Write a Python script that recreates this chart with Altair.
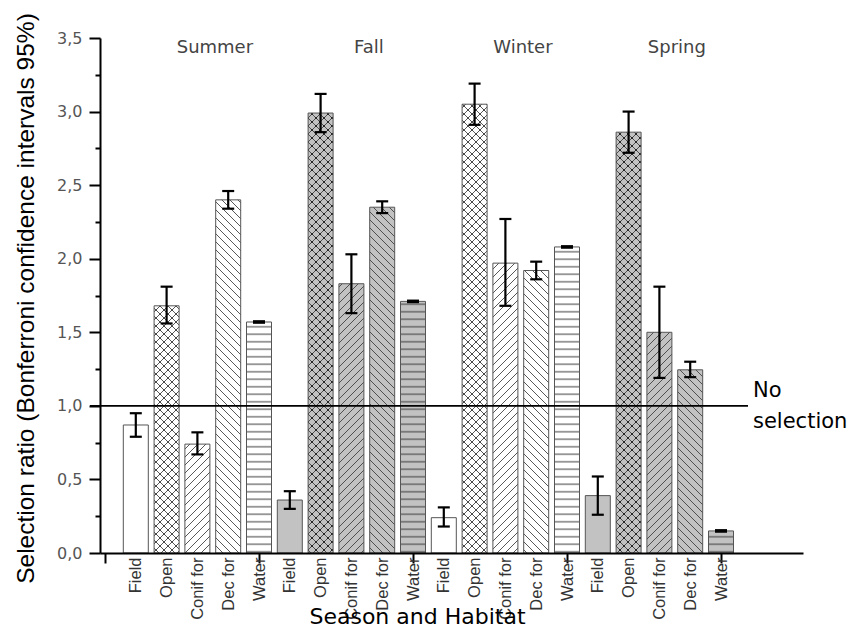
import altair as alt
import pandas as pd

# ---------------- data ----------------
seasons = ["Summer", "Fall", "Winter", "Spring"]
habitats = ["Field", "Open", "Conif for", "Dec for", "Water"]

summer_ratio = [0.87, 1.68, 0.74, 2.40, 1.57]
fall_ratio = [0.36, 2.99, 1.83, 2.35, 1.71]
winter_ratio = [0.24, 3.05, 1.97, 1.92, 2.08]
spring_ratio = [0.39, 2.86, 1.50, 1.245, 0.15]

summer_lower = [0.79, 1.56, 0.67, 2.34, 1.565]
fall_lower = [0.30, 2.86, 1.63, 2.31, 1.705]
winter_lower = [0.18, 2.91, 1.68, 1.86, 2.075]
spring_lower = [0.26, 2.72, 1.19, 1.195, 0.145]

summer_upper = [0.95, 1.81, 0.82, 2.46, 1.575]
fall_upper = [0.42, 3.12, 2.03, 2.39, 1.715]
winter_upper = [0.31, 3.19, 2.27, 1.98, 2.085]
spring_upper = [0.52, 3.00, 1.81, 1.30, 0.155]

no_selection_level = 1.0
no_selection_label = "No selection"

y_tick_values = [0.0, 0.5, 1.0, 1.5, 2.0, 2.5, 3.0, 3.5]
y_minor_values = [0.25, 0.75, 1.25, 1.75, 2.25, 2.75, 3.25]

# ---------------- table ----------------
ratios = [summer_ratio, fall_ratio, winter_ratio, spring_ratio]
lowers = [summer_lower, fall_lower, winter_lower, spring_lower]
uppers = [summer_upper, fall_upper, winter_upper, spring_upper]
rows = []
for si, s in enumerate(seasons):
    for hi, h in enumerate(habitats):
        rows.append({
            "season": s, "habitat": h, "pos": si * len(habitats) + hi + 1,
            "ratio": ratios[si][hi], "lower": lowers[si][hi], "upper": uppers[si][hi],
            "key": s + "|" + h,
        })
df = pd.DataFrame(rows)

# ---------------- fill patterns (SVG pattern paints) ----------------
WHITE = "#ffffff"
GREY = "#c2c2c2"
INK = "#3a3a3a"
shade = {"Summer": ("w", WHITE), "Fall": ("g", GREY), "Winter": ("w", WHITE), "Spring": ("g", GREY)}
pattern_of = {"Field": None, "Open": "open", "Conif for": "conif", "Dec for": "dec", "Water": "water"}


def _pattern(pid, bg, w, h, body):
    return (f'<pattern id="{pid}" patternUnits="userSpaceOnUse" width="{w}" height="{h}">'
            f'<rect x="0" y="0" width="{w}" height="{h}" fill="{bg}"/>{body}</pattern>')


def _dots(r):
    pts = [(0, 0), (8, 0), (0, 8), (8, 8), (4, 4)]
    return "".join(f'<circle cx="{x}" cy="{y}" r="{r}" fill="#111"/>' for x, y in pts)


line = f'stroke="{INK}" stroke-width="0.85" fill="none"'
defs = []
for tag, bg in (("w", WHITE), ("g", GREY)):
    dot_r = 0.55 if tag == "w" else 0.9
    defs.append(_pattern(f"pat-open-{tag}", bg, 8, 8,
                         f'<path d="M0,0L8,8M8,0L0,8" {line}/>' + _dots(dot_r)))
    defs.append(_pattern(f"pat-conif-{tag}", bg, 8, 8,
                         f'<path d="M-2,2L2,-2M0,8L8,0M6,10L10,6" {line}/>'))
    defs.append(_pattern(f"pat-dec-{tag}", bg, 8, 8,
                         f'<path d="M-2,6L2,10M0,0L8,8M6,-2L10,2" {line}/>'))
    defs.append(_pattern(f"pat-water-{tag}", bg, 8, 7.5,
                         f'<path d="M0,3.75H8" stroke="{INK}" stroke-width="1" fill="none"/>'))
PATTERN_DEFS = ('<svg width="0" height="0" aria-hidden="true" '
                'style="position:absolute;width:0;height:0;overflow:hidden"><defs>'
                + "".join(defs) + "</defs></svg>")

fill_domain, fill_range = [], []
for s in seasons:
    tag, bg = shade[s]
    for h in habitats:
        fill_domain.append(s + "|" + h)
        p = pattern_of[h]
        fill_range.append(bg if p is None else f"url(#pat-{p}-{tag}) {bg}")

try:
    import altair.utils.html as _alt_html

    _orig_tpl = _alt_html.TEMPLATES["standard"]

    class _PatternTemplate:
        def render(self, *args, **kwargs):
            html = _orig_tpl.render(*args, **kwargs)
            if "<body>" in html:
                return html.replace("<body>", "<body>\n" + PATTERN_DEFS, 1)
            return PATTERN_DEFS + html

    _alt_html.TEMPLATES["standard"] = _PatternTemplate()
except Exception:
    pass

# ---------------- scales & axes ----------------
x_scale = alt.Scale(domain=[0, 22.5], nice=False, zero=False)
y_scale = alt.Scale(domain=[0, 3.5], nice=False)

label_expr_x = ("datum.value < 1 ? '' : [" + ",".join("'" + h + "'" for h in habitats)
                + "][(datum.value - 1) % 5]")

axis_x = alt.Axis(
    orient="bottom", values=list(range(0, 21)), labelExpr=label_expr_x,
    labelAngle=270, labelAlign="right", labelBaseline="middle",
    labelFont="Liberation Sans", labelFontSize=16.5, labelColor="#333333",
    labelPadding=-6, labelOverlap=False, labelFlush=False,
    ticks=True, tickSize=10, tickWidth=2, tickColor="black",
    tickOpacity={"condition": {"test": "datum.value % 5 === 0", "value": 1}, "value": 0},
    domain=True, domainColor="black", domainWidth=2,
    grid=False, zindex=1,
    title="Season and Habitat", titleFont="DejaVu Sans", titleFontSize=22,
    titleFontWeight="normal", titleColor="black", titleX=317, titleY=70,
    titleBaseline="alphabetic", titleAlign="center",
)
axis_y_major = alt.Axis(
    orient="left", values=y_tick_values,
    labelExpr="replace(format(datum.value, '.1f'), '.', ',')",
    labelFont="DejaVu Sans", labelFontSize=16, labelColor="#555555",
    labelPadding=7, labelOverlap=False, labelFlush=False,
    tickSize=11, tickWidth=2, tickColor="black",
    domain=True, domainColor="black", domainWidth=2, grid=False, zindex=1,
    title="Selection ratio (Bonferroni  confidence intervals 95%)",
    titleFont="Liberation Sans", titleFontSize=24.5, titleFontWeight="normal",
    titleColor="black", titleX=-67, titleY=260, titleBaseline="alphabetic",
)
axis_y_minor = alt.Axis(
    orient="left", values=y_minor_values, labels=False, domain=False,
    tickSize=5, tickWidth=2, tickColor="black", grid=False, title=None, zindex=1,
)

base = alt.Chart(df)

bars = base.mark_bar(size=25, stroke="#555555", strokeWidth=1).encode(
    x=alt.X("pos:Q", scale=x_scale, axis=axis_x),
    y=alt.Y("ratio:Q", scale=y_scale, axis=axis_y_major),
    fill=alt.Fill("key:N", scale=alt.Scale(domain=fill_domain, range=fill_range), legend=None),
)

err = base.mark_rule(color="black", strokeWidth=2.2).encode(
    x=alt.X("pos:Q", scale=x_scale, axis=None),
    y=alt.Y("lower:Q", scale=y_scale, axis=axis_y_minor),
    y2="upper:Q",
)
cap_lo = base.mark_tick(orient="horizontal", size=12, thickness=2.2, color="black", opacity=1).encode(
    x=alt.X("pos:Q", scale=x_scale, axis=None),
    y=alt.Y("lower:Q", scale=y_scale, axis=None),
)
cap_hi = base.mark_tick(orient="horizontal", size=12, thickness=2.2, color="black", opacity=1).encode(
    x=alt.X("pos:Q", scale=x_scale, axis=None),
    y=alt.Y("upper:Q", scale=y_scale, axis=None),
)

ref_df = pd.DataFrame({"level": [no_selection_level], "label": [no_selection_label]})
ref = alt.Chart(ref_df).mark_rule(color="black", strokeWidth=1.6).encode(
    y=alt.Y("level:Q", scale=y_scale, axis=None),
    x=alt.value(-10), x2=alt.value(648),
)
ref_text = alt.Chart(ref_df).mark_text(
    align="left", baseline="alphabetic", font="DejaVu Sans", fontSize=21,
    color="black", lineBreak=" ", lineHeight=31, dy=-9,
).encode(
    y=alt.Y("level:Q", scale=y_scale, axis=None),
    x=alt.value(653),
    text="label:N",
)

season_text = base.transform_aggregate(
    mean_pos="mean(pos)", groupby=["season"]
).mark_text(
    font="DejaVu Sans", fontSize=18, color="#444444", baseline="alphabetic",
    align="center", dx=17.5,
).encode(
    x=alt.X("mean_pos:Q", scale=x_scale, axis=None),
    y=alt.value(15),
    text="season:N",
)

chart = alt.layer(
    bars, err, cap_lo, cap_hi, ref, ref_text, season_text
).resolve_axis(
    x="independent", y="independent"
).properties(
    width=703, height=515,
    autosize=alt.AutoSizeParams(type="none"),
    padding={"left": 92, "top": 30, "right": 54, "bottom": 75},
).configure_view(stroke=None)

chart.save("out.html", embed_options={"renderer": "svg", "actions": False})
